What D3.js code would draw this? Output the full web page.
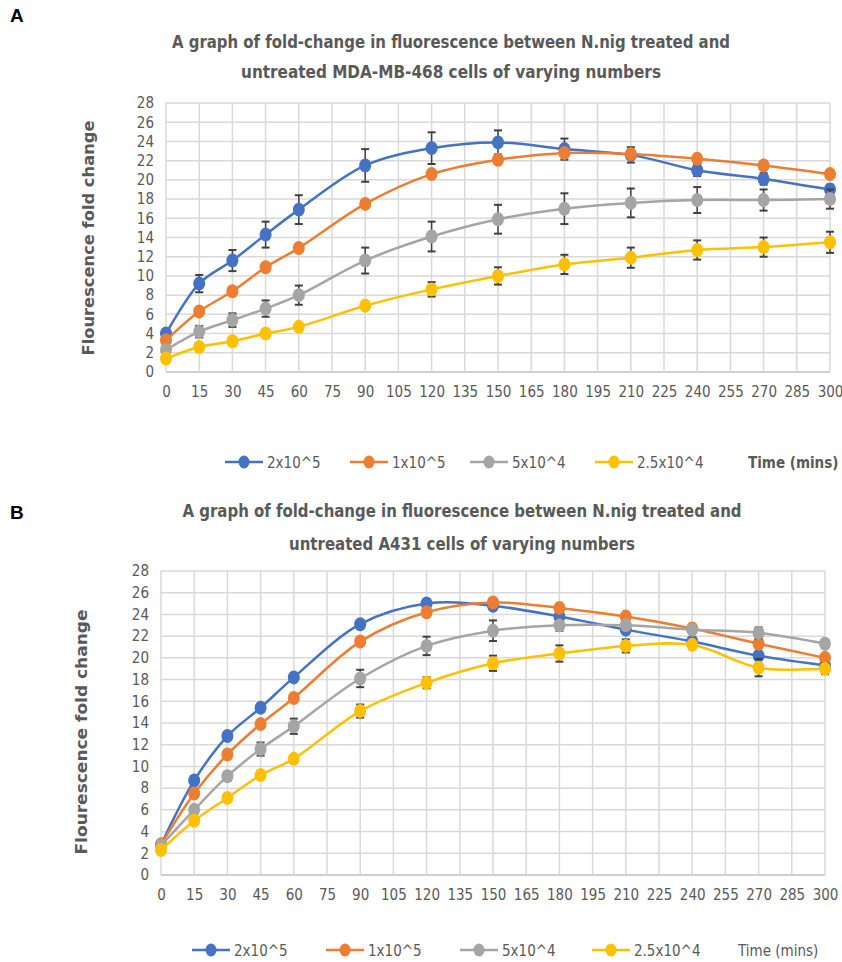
<!DOCTYPE html>
<html>
<head>
<meta charset="utf-8">
<script src="https://cdn.jsdelivr.net/npm/d3@7"></script>
<style>
  html, body { margin: 0; padding: 0; background: #fff; }
  svg { display: block; }
  text { font-family: "Liberation Sans Narrow", "DejaVu Sans Condensed", "Liberation Sans", sans-serif; }
</style>
</head>
<body>
<div id="chart"></div>
<script>
'use strict';

// ---- data ----
const times = [0, 15, 30, 45, 60, 90, 120, 150, 180, 210, 240, 270, 300];
const xTicks = [0, 15, 30, 45, 60, 75, 90, 105, 120, 135, 150, 165, 180, 195, 210, 225, 240, 255, 270, 285, 300];
const yTicks = [0, 2, 4, 6, 8, 10, 12, 14, 16, 18, 20, 22, 24, 26, 28];
const seriesNames = ['2x10^5', '1x10^5', '5x10^4', '2.5x10^4'];
const seriesColors = ['#4472C4', '#ED7D31', '#A5A5A5', '#FFC000'];

// panel A : MDA-MB-468
const mdaTitle = ['A graph of fold-change in fluorescence between N.nig treated and',
                  'untreated MDA-MB-468 cells of varying numbers'];
const mda2e5  = [4.0, 9.2, 11.6, 14.3, 16.9, 21.5, 23.3, 23.9, 23.2, 22.6, 21.0, 20.1, 19.0];
const mda1e5  = [3.3, 6.3, 8.4, 10.9, 12.9, 17.5, 20.6, 22.1, 22.8, 22.7, 22.2, 21.5, 20.6];
const mda5e4  = [2.3, 4.2, 5.4, 6.6, 8.0, 11.6, 14.1, 15.9, 17.0, 17.6, 17.9, 17.9, 18.0];
const mda25e4 = [1.4, 2.6, 3.2, 4.0, 4.7, 6.9, 8.6, 10.0, 11.2, 11.9, 12.7, 13.0, 13.5];
const mda2e5Err  = [0.3, 0.9, 1.1, 1.35, 1.5, 1.7, 1.65, 1.25, 1.1, 0.8, 0.6, 0.6, 0.5];
const mda1e5Err  = [0.2, 0.2, 0.2, 0.2, 0.2, 0.2, 0.2, 0.3, 0.3, 0.3, 0.2, 0.2, 0.2];
const mda5e4Err  = [0.3, 0.6, 0.7, 0.85, 1.0, 1.35, 1.55, 1.5, 1.6, 1.5, 1.35, 1.1, 1.0];
const mda25e4Err = [0.2, 0.3, 0.3, 0.3, 0.3, 0.4, 0.75, 0.9, 1.0, 1.05, 1.0, 1.0, 1.1];

// panel B : A431
const a431Title = ['A graph of fold-change in fluorescence between N.nig treated and',
                   'untreated A431 cells of varying numbers'];
const a4312e5  = [2.8, 8.7, 12.8, 15.4, 18.2, 23.1, 25.0, 24.8, 23.8, 22.6, 21.5, 20.2, 19.3];
const a4311e5  = [2.8, 7.5, 11.1, 13.9, 16.3, 21.5, 24.2, 25.1, 24.6, 23.8, 22.7, 21.3, 20.0];
const a4315e4  = [2.7, 6.0, 9.1, 11.6, 13.7, 18.1, 21.1, 22.5, 23.0, 23.0, 22.6, 22.3, 21.3];
const a43125e4 = [2.3, 5.0, 7.1, 9.2, 10.7, 15.1, 17.7, 19.5, 20.4, 21.1, 21.2, 19.1, 19.0];
const a4312e5Err  = [0.2, 0.2, 0.2, 0.2, 0.2, 0.2, 0.2, 0.2, 0.2, 0.2, 0.2, 0.2, 0.2];
const a4311e5Err  = [0.2, 0.2, 0.2, 0.2, 0.2, 0.2, 0.2, 0.2, 0.2, 0.2, 0.2, 0.2, 0.2];
const a4315e4Err  = [0.2, 0.3, 0.4, 0.6, 0.7, 0.8, 0.85, 0.95, 0.5, 0.4, 0.3, 0.5, 0.3];
const a43125e4Err = [0.2, 0.2, 0.2, 0.2, 0.3, 0.6, 0.5, 0.7, 0.75, 0.6, 0.3, 0.8, 0.5];

const W = 842, H = 962;
const svg = d3.select('#chart').append('svg').attr('width', W).attr('height', H);

const panels = [
  {
    letter: 'A', letterY: 22, title: mdaTitle, titleX: 451, titleY: [48, 78], titleLen: [558, 420],
    values: [mda2e5, mda1e5, mda5e4, mda25e4],
    errors: [mda2e5Err, mda1e5Err, mda5e4Err, mda25e4Err],
    left: 166, right: 830, top: 103, bottom: 372,
    yTitleX: 94, yTitleC: 238, yTitleLen: 235,
    legendY: 462, legendX: [225, 350, 470, 595], timeX: 748, timeBold: true
  },
  {
    letter: 'B', letterY: 519, title: a431Title, titleX: 462, titleY: [517, 550], titleLen: [559, 346],
    values: [a4312e5, a4311e5, a4315e4, a43125e4],
    errors: [a4312e5Err, a4311e5Err, a4315e4Err, a43125e4Err],
    left: 161, right: 825, top: 571, bottom: 875,
    yTitleX: 87, yTitleC: 732, yTitleLen: 245,
    legendY: 950, legendX: [192, 326, 460, 592], timeX: 738, timeBold: false
  }
];

const drawPanel = (p) => {
  const g = svg.append('g');
  const x = d3.scaleLinear().domain([0, 300]).range([p.left, p.right]);
  const y = d3.scaleLinear().domain([0, 28]).range([p.bottom, p.top]);

  g.append('text').attr('x', 10).attr('y', p.letterY)
    .attr('font-size', 19).attr('font-weight', 'bold').attr('fill', '#000')
    .style('font-family', '"Liberation Sans", Arial, sans-serif')
    .text(p.letter);

  g.selectAll('.title').data(p.title).enter().append('text')
    .attr('x', p.titleX).attr('y', (d, i) => p.titleY[i])
    .attr('text-anchor', 'middle').attr('font-size', 17.5).attr('font-weight', 'bold')
    .attr('textLength', (d, i) => p.titleLen[i]).attr('lengthAdjust', 'spacingAndGlyphs')
    .attr('fill', '#595959').text(d => d);

  // grid
  g.selectAll('.hgrid').data(yTicks).enter().append('line')
    .attr('x1', p.left).attr('x2', p.right)
    .attr('y1', d => y(d)).attr('y2', d => y(d))
    .attr('stroke', d => d === 0 ? '#bfbfbf' : '#d9d9d9').attr('stroke-width', 1.5);
  g.selectAll('.vgrid').data(xTicks).enter().append('line')
    .attr('x1', d => x(d)).attr('x2', d => x(d))
    .attr('y1', p.top).attr('y2', p.bottom)
    .attr('stroke', '#d9d9d9').attr('stroke-width', 1.5);

  // axes (labels only)
  const yAxis = g.append('g').attr('transform', `translate(${p.left},0)`)
    .call(d3.axisLeft(y).tickValues(yTicks).tickSize(0).tickPadding(12));
  const xAxis = g.append('g').attr('transform', `translate(0,${p.bottom})`)
    .call(d3.axisBottom(x).tickValues(xTicks).tickSize(0).tickPadding(14));
  [yAxis, xAxis].forEach(a => {
    a.select('.domain').remove();
    a.selectAll('text').attr('font-size', 15).attr('fill', '#595959')
      .style('font-family', '"Liberation Sans Narrow", "DejaVu Sans Condensed", sans-serif');
  });

  g.append('text')
    .attr('transform', `translate(${p.yTitleX},${p.yTitleC}) rotate(-90)`)
    .attr('text-anchor', 'middle').attr('font-size', 15.5).attr('font-weight', 'bold')
    .attr('textLength', p.yTitleLen).attr('lengthAdjust', 'spacingAndGlyphs')
    .attr('fill', '#595959').style('font-family', '"DejaVu Sans", sans-serif')
    .text('Flourescence fold change');

  const line = d3.line().x(d => x(d.t)).y(d => y(d.v)).curve(d3.curveCatmullRom.alpha(0.5));

  p.values.forEach((vals, si) => {
    const pts = times.map((t, i) => ({ t, v: vals[i], e: p.errors[si][i] }));
    const sg = g.append('g');
    sg.append('path').datum(pts).attr('d', line).attr('fill', 'none')
      .attr('stroke', seriesColors[si]).attr('stroke-width', 2.5);
    const eb = sg.selectAll('.err').data(pts).enter().append('g');
    eb.append('line').attr('x1', d => x(d.t)).attr('x2', d => x(d.t))
      .attr('y1', d => y(d.v - d.e)).attr('y2', d => y(d.v + d.e))
      .attr('stroke', '#404040').attr('stroke-width', 1.5);
    [-1, 1].forEach(s => {
      eb.append('line').attr('x1', d => x(d.t) - 4).attr('x2', d => x(d.t) + 4)
        .attr('y1', d => y(d.v + s * d.e)).attr('y2', d => y(d.v + s * d.e))
        .attr('stroke', '#404040').attr('stroke-width', 2);
    });
    sg.selectAll('.dot').data(pts).enter().append('ellipse')
      .attr('cx', d => x(d.t)).attr('cy', d => y(d.v)).attr('rx', 6).attr('ry', 7)
      .attr('fill', seriesColors[si]);
  });

  // legend
  const lg = g.append('g');
  seriesNames.forEach((name, i) => {
    const lx = p.legendX[i];
    lg.append('line').attr('x1', lx).attr('x2', lx + 38)
      .attr('y1', p.legendY).attr('y2', p.legendY)
      .attr('stroke', seriesColors[i]).attr('stroke-width', 2.5);
    lg.append('ellipse').attr('cx', lx + 19).attr('cy', p.legendY).attr('rx', 5.5).attr('ry', 6.5)
      .attr('fill', seriesColors[i]);
    lg.append('text').attr('x', lx + 42).attr('y', p.legendY + 5.5)
      .attr('font-size', 15).attr('fill', '#595959').text(name);
  });
  lg.append('text').attr('x', p.timeX).attr('y', p.legendY + 5.5)
    .attr('font-size', 15).attr('fill', '#595959')
    .attr('font-weight', p.timeBold ? 'bold' : 'normal').text('Time (mins)');
};

panels.forEach(drawPanel);
</script>
</body>
</html>
